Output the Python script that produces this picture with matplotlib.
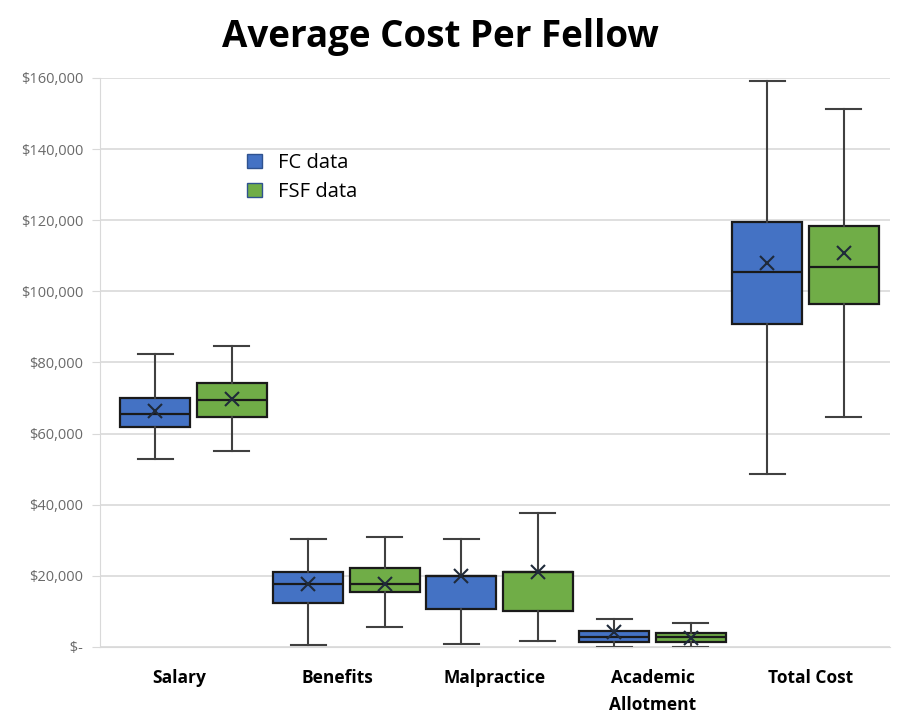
import matplotlib.pyplot as plt
from matplotlib.patches import Patch
from matplotlib.ticker import FuncFormatter

categories = ["Salary", "Benefits", "Malpractice", "Academic\nAllotment", "Total Cost"]

# five-number summaries + mean per category (dollars)
fc_low = [52900, 500, 900, 0, 48600]
fc_q1 = [61900, 12400, 10700, 1400, 90800]
fc_med = [65500, 17700, 20000, 2800, 105500]
fc_q3 = [70000, 21100, 20000, 4500, 119500]
fc_high = [82400, 30400, 30400, 7900, 159200]
fc_mean = [66400, 17700, 20000, 4300, 108000]

fsf_low = [55100, 5600, 1600, 0, 64700]
fsf_q1 = [64700, 15400, 10100, 1400, 96500]
fsf_med = [69500, 17700, 21100, 2800, 106900]
fsf_q3 = [74200, 22200, 21100, 4000, 118400]
fsf_high = [84600, 30900, 37700, 6700, 151300]
fsf_mean = [69700, 17700, 21100, 2500, 110800]

blue = "#4472C4"
green = "#70AD47"


def make_stats(low, q1, med, q3, high, mean):
    return [dict(whislo=a, q1=b, med=c, q3=d, whishi=e, mean=f, fliers=[])
            for a, b, c, d, e, f in zip(low, q1, med, q3, high, mean)]


fig = plt.figure(figsize=(9.05, 7.16), dpi=100)
ax = fig.add_axes([0.1105, 0.0964, 0.8725, 0.7947])

n = len(categories)
groups = [
    (make_stats(fc_low, fc_q1, fc_med, fc_q3, fc_high, fc_mean), blue, -0.25),
    (make_stats(fsf_low, fsf_q1, fsf_med, fsf_q3, fsf_high, fsf_mean), green, 0.25),
]
for stats, col, off in groups:
    ax.bxp(stats, positions=[i + off for i in range(n)], widths=0.455,
           patch_artist=True, showmeans=True, manage_ticks=False,
           boxprops=dict(facecolor=col, edgecolor="#1a1a1a", linewidth=1.6),
           medianprops=dict(color="#1a1a1a", linewidth=1.6),
           whiskerprops=dict(color="#404040", linewidth=1.5),
           capprops=dict(color="#404040", linewidth=1.5),
           meanprops=dict(marker="x", markeredgecolor="#1f2a3a", markersize=10,
                          markeredgewidth=1.5))

x0, x1 = -0.611, 4.55
ax.set_xlim(x0, x1)
ax.set_ylim(0, 160000)
ax.set_yticks(range(0, 160001, 20000))
ax.yaxis.set_major_formatter(FuncFormatter(lambda v, p: " $-" if v == 0 else f"${v:,.0f}"))

# category labels sit in equal slots across the plot width
slot = (x1 - x0) / n
ax.set_xticks([x0 + (i + 0.5) * slot for i in range(n)])
ax.set_xticklabels(categories, fontweight="bold", fontsize=12.5, family="Open Sans",
                   linespacing=1.6)
ax.tick_params(axis="x", length=0, pad=16)
ax.tick_params(axis="y", length=6, color="#d9d9d9", labelcolor="#6a6a6a",
               labelsize=10.5, pad=6)
for lbl in ax.get_yticklabels():
    lbl.set_family("Open Sans")

ax.grid(axis="y", color="#d9d9d9", linewidth=1.2)
ax.set_axisbelow(True)
for s in ["top", "right"]:
    ax.spines[s].set_visible(False)
ax.spines["left"].set_color("#d9d9d9")
ax.spines["bottom"].set_color("#d9d9d9")
for art in ax.lines + ax.patches:
    art.set_clip_on(False)

handles = [Patch(facecolor=blue, edgecolor="#2f528f", label="FC data"),
           Patch(facecolor=green, edgecolor="#2f528f", label="FSF data")]
ax.legend(handles=handles, loc="upper left", bbox_to_anchor=(0.163, 0.9),
          frameon=False, prop=dict(family="Open Sans", size=14.5),
          handlelength=0.75, handleheight=0.75, handletextpad=0.8, labelspacing=0.45)

fig.suptitle("Average Cost Per Fellow", x=0.487, y=0.975, fontsize=26.5,
             fontweight="bold", family="Open Sans")

fig.savefig("out.png", dpi=100)
